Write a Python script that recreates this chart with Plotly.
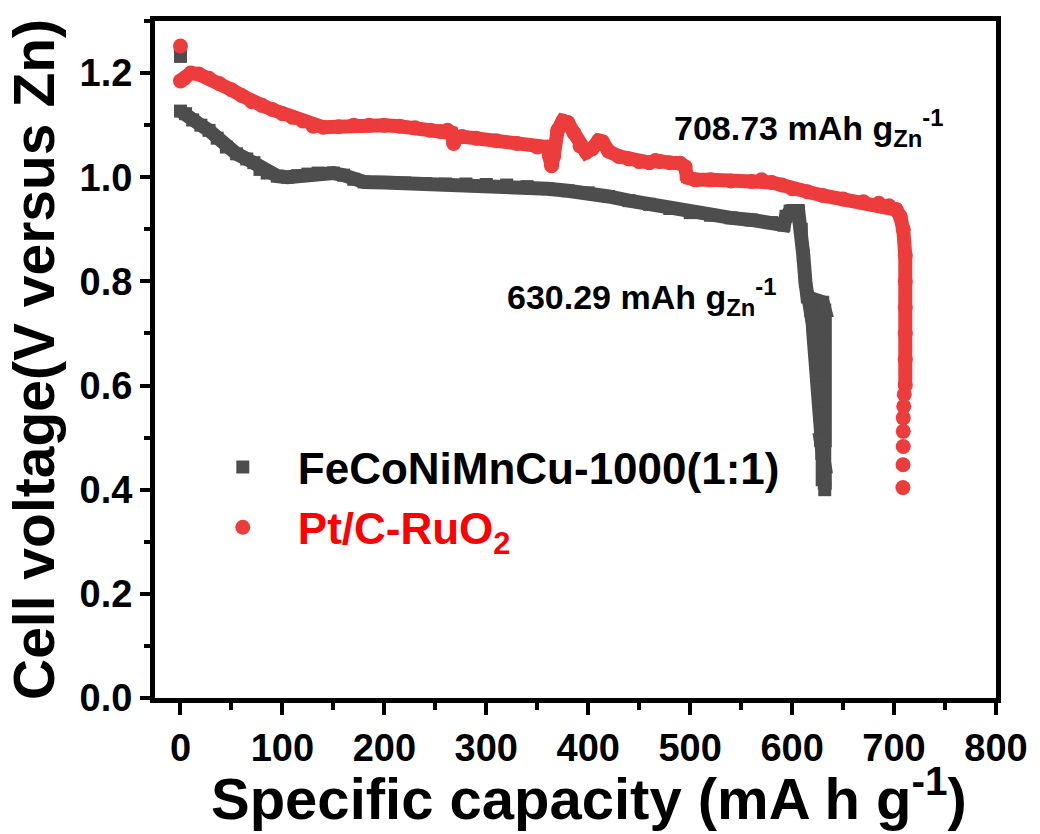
import plotly.graph_objects as go

# ---- data ----
black_name = "FeCoNiMnCu-1000(1:1)"
black_x = [0, 0, 5, 12, 20, 28, 36, 45, 55, 65, 72, 78, 85, 95, 105, 115, 125, 135, 150, 160, 170,
           180, 200, 220, 240, 260, 280, 300, 320, 340, 360, 380, 400, 420, 440, 460, 480, 500,
           520, 540, 560, 580, 592, 594, 598, 606, 609, 611, 613, 615, 630, 632, 618, 620, 632,
           632, 621, 622, 632, 632, 623, 624, 632, 632, 625, 626, 632, 632, 627, 628, 632, 632,
           628, 629, 632, 632, 630, 630, 632, 632]
black_y = [1.232, 1.127, 1.122, 1.11, 1.10, 1.09, 1.075, 1.058, 1.045, 1.035, 1.028, 1.015, 1.008,
           1.002, 1.0, 1.003, 1.006, 1.008, 1.008, 1.004, 0.996, 0.991, 0.99, 0.989, 0.988, 0.987,
           0.987, 0.986, 0.985, 0.982, 0.978, 0.974, 0.97, 0.963, 0.955, 0.948, 0.94, 0.932,
           0.927, 0.922, 0.918, 0.913, 0.908, 0.925, 0.935, 0.935, 0.90, 0.85, 0.80, 0.77, 0.76,
           0.745, 0.745, 0.72, 0.72, 0.695, 0.695, 0.67, 0.67, 0.645, 0.645, 0.62, 0.62, 0.595,
           0.595, 0.57, 0.57, 0.545, 0.545, 0.52, 0.52, 0.495, 0.495, 0.47, 0.47, 0.445, 0.445,
           0.42, 0.42, 0.40]

red_name = "Pt/C-RuO<sub>2</sub>"
red_x = [0, 0, 4, 10, 18, 28, 38, 50, 60, 70, 80, 90, 100, 110, 120, 130, 140, 155, 170, 185, 200,
         215, 230, 245, 255, 262, 266, 268, 270, 276, 290, 310, 330, 350, 360, 362, 364, 366, 370,
         375, 380, 386, 392, 398, 404, 410, 414, 420, 430, 440, 450, 460, 466, 470, 480, 490,
         495, 497, 505, 520, 540, 560, 570, 580, 590, 600, 615, 630, 650, 670, 685, 695, 702,
         706, 709, 711, 711, 711, 711, 711, 711]
red_y = [1.252, 1.185, 1.19, 1.2, 1.198, 1.19, 1.18, 1.168, 1.157, 1.145, 1.138, 1.13, 1.122,
         1.115, 1.108, 1.098, 1.096, 1.097, 1.1, 1.1, 1.1, 1.098, 1.095, 1.09, 1.088, 1.09, 1.085,
         1.065, 1.075, 1.078, 1.075, 1.07, 1.065, 1.058, 1.058, 1.04, 1.022, 1.04, 1.09, 1.108,
         1.105, 1.085, 1.06, 1.048, 1.055, 1.07, 1.068, 1.05, 1.04, 1.035, 1.03, 1.028, 1.032,
         1.03, 1.028, 1.027, 1.02, 1.0, 0.995, 0.995, 0.993, 0.992, 0.995, 0.99, 0.985, 0.978,
         0.972, 0.965, 0.958, 0.953, 0.95, 0.945, 0.938, 0.925, 0.9, 0.85, 0.8, 0.75, 0.7, 0.65,
         0.6]
red_tail_x = [710, 709.5, 709, 709, 709, 708.8, 708.7]
red_tail_y = [0.583, 0.56, 0.538, 0.512, 0.483, 0.448, 0.404]

x_ticks = [0, 100, 200, 300, 400, 500, 600, 700, 800]
y_ticks = [0.0, 0.2, 0.4, 0.6, 0.8, 1.0, 1.2]

annotations_text = ["630.29 mAh g<sub>Zn</sub><sup>-1</sup>", "708.73 mAh g<sub>Zn</sub><sup>-1</sup>"]
annotations_x = [452, 616]
annotations_y = [0.77, 1.094]

x_title = "Specific capacity (mA h g<sup>-1</sup>)"
y_title = "Cell voltage(V versus Zn)"

BLACK = "#4d4d4d"
RED = "#ec3c3c"
FONT = "Liberation Sans, Arial, sans-serif"

fig = go.Figure()
# thick bands (library draws lines between the read points)
fig.add_trace(go.Scatter(x=black_x[1:], y=black_y[1:], mode="lines", showlegend=False,
                         line=dict(color=BLACK, width=14), hoverinfo="skip"))
fig.add_trace(go.Scatter(x=red_x[1:], y=red_y[1:], mode="lines", showlegend=False,
                         line=dict(color=RED, width=14), hoverinfo="skip"))
# markers
fig.add_trace(go.Scatter(x=black_x, y=black_y, mode="markers", name=black_name,
                         marker=dict(symbol="square", size=13, color=BLACK, line=dict(width=0))))
fig.add_trace(go.Scatter(x=red_x + red_tail_x, y=red_y + red_tail_y, mode="markers",
                         name="<span style='color:#ff0000'>" + red_name + "</span>",
                         marker=dict(symbol="circle", size=15, color=RED, line=dict(width=0))))

for t, ax, ay in zip(annotations_text, annotations_x, annotations_y):
    fig.add_annotation(x=ax, y=ay, text=t, showarrow=False, xanchor="center", yanchor="middle",
                       font=dict(family=FONT, size=34, color="black", weight="bold"))

# x-axis title as a paper annotation (slightly right of the plot centre, as in the reference)
fig.add_annotation(x=0.516, y=-0.143, xref="paper", yref="paper", text=x_title,
                   showarrow=False, xanchor="center", yanchor="middle", borderpad=0,
                   font=dict(family=FONT, size=58, color="black", weight="bold"))

fig.update_layout(
    width=1040, height=834,
    margin=dict(l=155, r=40, t=21, b=136),
    plot_bgcolor="white", paper_bgcolor="white",
    font=dict(family=FONT, color="black", weight="bold"),
    legend=dict(x=0.039, y=0.393, xanchor="left", yanchor="top",
                bgcolor="rgba(0,0,0,0)", itemsizing="trace", itemwidth=100,
                font=dict(family=FONT, size=44, color="black", weight="bold"),
                tracegroupgap=0),
)
fig.update_xaxes(
    range=[-25, 800], tickvals=x_ticks, ticktext=[str(v) for v in x_ticks],
    showgrid=False, zeroline=False,
    showline=True, linewidth=5, linecolor="black", mirror=True,
    ticks="outside", ticklen=12, tickwidth=4, tickcolor="black",
    minor=dict(dtick=50, tick0=0, ticks="outside", ticklen=7, tickwidth=4, tickcolor="black"),
    tickfont=dict(family="Liberation Sans Narrow, Liberation Sans, Arial", size=38, weight="bold"),
)
fig.update_yaxes(
    range=[0, 1.3], tickvals=y_ticks, ticktext=["%.1f" % v for v in y_ticks],
    showgrid=False, zeroline=False,
    showline=True, linewidth=5, linecolor="black", mirror=True,
    ticks="outside", ticklen=10, tickwidth=4, tickcolor="black",
    minor=dict(dtick=0.1, tick0=0, ticks="outside", ticklen=6, tickwidth=4, tickcolor="black"),
    tickfont=dict(family=FONT, size=38, weight="bold"),
    title=dict(text=y_title, font=dict(family=FONT, size=57, weight="bold"), standoff=8),
)

fig.write_html("out.html")
